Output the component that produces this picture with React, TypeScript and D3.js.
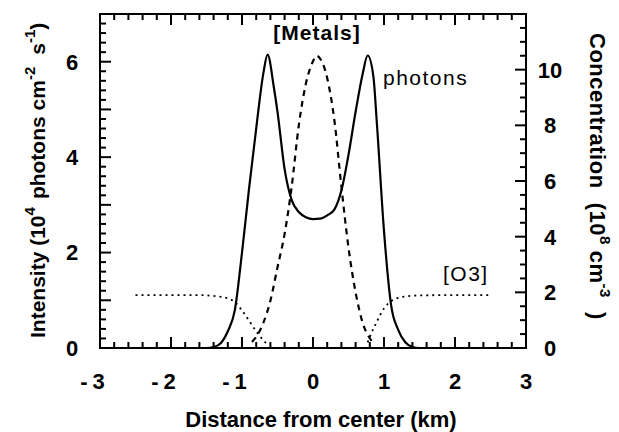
import React from 'react';
import * as d3 from 'd3';

// photons (left axis, 10^4 photons cm^-2 s^-1)
const photonX = [-2.5, -1.5, -1.4, -1.3, -1.2, -1.1, -1.0, -0.9, -0.8, -0.7, -0.64, -0.55, -0.5, -0.4, -0.3, -0.2, -0.1, 0.0, 0.1, 0.2, 0.3, 0.4, 0.5, 0.6, 0.7, 0.77, 0.85, 0.9, 1.0, 1.1, 1.2, 1.3, 1.4, 1.5, 2.5];
const photonY = [0, 0, 0.02, 0.1, 0.35, 0.8, 2.0, 3.35, 4.6, 5.75, 6.15, 5.45, 4.95, 3.75, 3.1, 2.85, 2.74, 2.7, 2.71, 2.78, 2.9, 3.3, 4.05, 4.95, 5.75, 6.13, 5.7, 4.7, 2.45, 0.9, 0.38, 0.12, 0.02, 0, 0];

// [Metals] (right axis, 10^8 cm^-3)
const metalX = [-0.86, -0.8, -0.7, -0.6, -0.5, -0.4, -0.3, -0.2, -0.1, 0.0, 0.05, 0.1, 0.2, 0.3, 0.4, 0.5, 0.6, 0.7, 0.8, 0.86];
const metalY = [0.22, 0.4, 0.9, 1.7, 2.9, 4.1, 5.8, 8.0, 9.5, 10.3, 10.5, 10.4, 9.7, 8.2, 5.8, 3.6, 2.0, 0.9, 0.35, 0.15];

// [O3] (right axis), two branches
const o3LeftX = [-2.5, -2.0, -1.6, -1.4, -1.3, -1.2, -1.1, -1.0, -0.9, -0.8, -0.7, -0.65];
const o3LeftY = [1.9, 1.9, 1.9, 1.87, 1.84, 1.78, 1.65, 1.35, 0.98, 0.6, 0.28, 0.15];
const o3RightX = [0.77, 0.8, 0.9, 1.0, 1.1, 1.2, 1.3, 1.5, 2.0, 2.5];
const o3RightY = [0.2, 0.4, 0.95, 1.42, 1.68, 1.8, 1.85, 1.89, 1.9, 1.9];

const xTicks = [-3, -2, -1, 0, 1, 2, 3];
const leftTicks = [0, 2, 4, 6];
const rightTicks = [0, 2, 4, 6, 8, 10];

const FONT = "'Liberation Sans', Arial, Helvetica, sans-serif";

const left = 100, right = 526, top = 14, bottom = 348;
const x = d3.scaleLinear().domain([-3, 3]).range([left, right]);
const yL = d3.scaleLinear().domain([0, 7]).range([bottom, top]);
const yR = d3.scaleLinear().domain([0, 12]).range([bottom, top]);

const isInt = (v: number, step = 1) => Math.abs(v / step - Math.round(v / step)) < 1e-6;

const mkLine = (ys: d3.ScaleLinear<number, number>) =>
  d3.line<[number, number]>().x(d => x(d[0])).y(d => ys(d[1])).curve(d3.curveMonotoneX);

const zip = (a: number[], b: number[]) => a.map((v, i) => [v, b[i]] as [number, number]);

// minor/major tick positions
const xMinor = d3.range(0, 31).map(i => -3 + i * 0.2);
const lMinor = d3.range(0, 36).map(i => i * 0.2);
const rMinor = d3.range(0, 25).map(i => i * 0.5);

const App = () => {
  return (
    <svg width={619} height={432} fontFamily={FONT}
      style={{ position: 'absolute', left: 0, top: 0, background: '#fff' }}>
      <rect x={left} y={top} width={right - left} height={bottom - top}
        fill="none" stroke="#000" strokeWidth={2} />

      {/* ticks */}
      <g stroke="#000" strokeWidth={2}>
        {xMinor.map((v, i) => {
          const len = isInt(v) ? 11 : 6;
          return (
            <g key={'xt' + i}>
              <line x1={x(v)} x2={x(v)} y1={bottom} y2={bottom - len} />
              <line x1={x(v)} x2={x(v)} y1={top} y2={top + len} />
            </g>
          );
        })}
        {lMinor.map((v, i) => (
          <line key={'lt' + i} x1={left} x2={left + (isInt(v) ? 11 : 6)} y1={yL(v)} y2={yL(v)} />
        ))}
        {rMinor.map((v, i) => (
          <line key={'rt' + i} x1={right} x2={right - (isInt(v, 2) ? 11 : 6)} y1={yR(v)} y2={yR(v)} />
        ))}
      </g>

      {/* tick labels */}
      {xTicks.map(d => (
        <text key={'xl' + d} x={x(d) - (d < 0 ? 5 : 0)} y={389} textAnchor="middle"
          fontSize={22} fontWeight="bold" letterSpacing={d < 0 ? 5 : 0}>{String(d)}</text>
      ))}
      {leftTicks.map(d => (
        <text key={'yl' + d} x={72} y={yL(d)} dy="0.36em" textAnchor="middle"
          fontSize={22} fontWeight="bold">{String(d)}</text>
      ))}
      {rightTicks.map(d => (
        <text key={'yr' + d} x={550} y={yR(d)} dy="0.36em" textAnchor="middle"
          fontSize={22} fontWeight="bold">{String(d)}</text>
      ))}

      {/* curves */}
      <path d={mkLine(yL)(zip(photonX, photonY)) || ''} fill="none" stroke="#000" strokeWidth={2.2} />
      <path d={mkLine(yR)(zip(metalX, metalY)) || ''} fill="none" stroke="#000" strokeWidth={2.2}
        strokeDasharray="6,5" />
      <path d={mkLine(yR)(zip(o3LeftX, o3LeftY)) || ''} fill="none" stroke="#000" strokeWidth={1.8}
        strokeDasharray="2,4" />
      <path d={mkLine(yR)(zip(o3RightX, o3RightY)) || ''} fill="none" stroke="#000" strokeWidth={1.8}
        strokeDasharray="2,4" />

      {/* annotations */}
      <text x={317} y={40} textAnchor="middle" fontSize={21} fontWeight="bold" letterSpacing={1}>[Metals]</text>
      <text x={383} y={85} fontSize={21} letterSpacing={1.5}>photons</text>
      <text x={443} y={281} fontSize={21} letterSpacing={1.5}>[O3]</text>

      {/* x title */}
      <text x={321} y={427} textAnchor="middle" fontSize={22} fontWeight="bold">
        Distance from center  (km)
      </text>

      {/* left title */}
      <text transform="translate(45,338) rotate(-90)" fontSize={21} fontWeight="bold">
        <tspan>Intensity (10</tspan>
        <tspan dy={-10} fontSize={15}>4</tspan>
        <tspan dy={10} dx={8}>photons cm</tspan>
        <tspan dy={-10} fontSize={15}>-2</tspan>
        <tspan dy={10} dx={12}>s</tspan>
        <tspan dy={-10} fontSize={15}>-1</tspan>
        <tspan dy={10}>)</tspan>
      </text>

      {/* right title */}
      <text transform="translate(590,33) rotate(90)" fontSize={22} fontWeight="bold" letterSpacing={0.5}>
        <tspan>Concentration</tspan>
        <tspan dx={14}>(10</tspan>
        <tspan dy={-10} fontSize={15}>8</tspan>
        <tspan dy={10} dx={6}>cm</tspan>
        <tspan dy={-10} fontSize={15}>-3</tspan>
        <tspan dy={10} dx={14}>)</tspan>
      </text>
    </svg>
  );
};

export default App;
